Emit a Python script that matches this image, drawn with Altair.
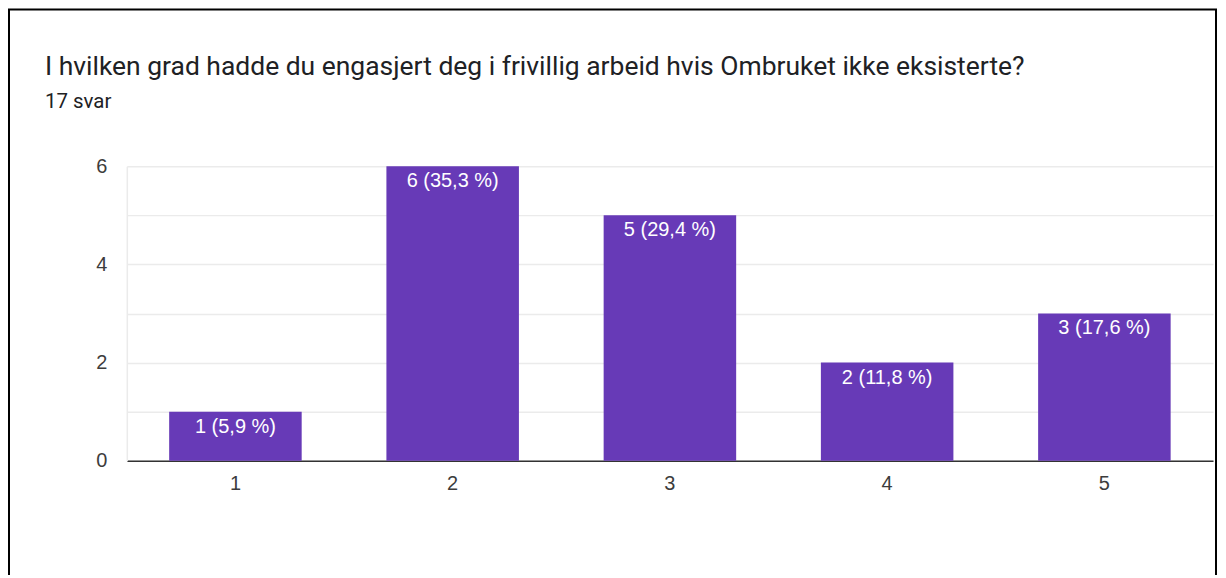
import altair as alt
import pandas as pd

categories = ["1", "2", "3", "4", "5"]
counts = [1, 6, 5, 2, 3]
bar_labels = ["1 (5,9 %)", "6 (35,3 %)", "5 (29,4 %)", "2 (11,8 %)", "3 (17,6 %)"]
title_text = "I hvilken grad hadde du engasjert deg i frivillig arbeid hvis Ombruket ikke eksisterte?"
subtitle_text = "17 svar"

df = pd.DataFrame({"cat": categories, "n": counts, "lab": bar_labels})

PURPLE = "#673AB7"
GRID = "#EBEBEB"
LABEL = "#3c3c3c"

x_enc = alt.X("cat:N", sort=categories,
              scale=alt.Scale(paddingInner=0.39, paddingOuter=0.195),
              axis=alt.Axis(title=None, labelAngle=0, ticks=False, labelPadding=13,
                            labelFont="Liberation Sans", labelFontSize=20, labelColor=LABEL,
                            domainColor="#333333", domainWidth=1.5, grid=False))
y_enc = alt.Y("n:Q", scale=alt.Scale(domain=[0, 6], nice=False),
              axis=alt.Axis(title=None, values=[0, 1, 2, 3, 4, 5, 6], ticks=False,
                            labelExpr="datum.value % 2 == 0 ? datum.label : ''",
                            labelPadding=20, labelFont="Liberation Sans", labelFontSize=20,
                            labelColor=LABEL, gridColor=GRID, gridWidth=1.5,
                            domainColor=GRID, domainWidth=1.5))

base = alt.Chart(df)
bars = base.mark_bar(color=PURPLE).encode(x=x_enc, y=y_enc)
texts = base.mark_text(color="white", baseline="top", dy=5, fontSize=20,
                       font="Liberation Sans").encode(
    x=alt.X("cat:N", sort=categories), y=alt.Y("n:Q"), text="lab:N")

tdf = pd.DataFrame({"t": [title_text]})
sdf = pd.DataFrame({"t": [subtitle_text]})
title = alt.Chart(tdf).mark_text(align="left", baseline="alphabetic", fontSize=26.5,
                                 font="Roboto", color="#202124").encode(
    x=alt.value(-82), y=alt.value(-91), text="t:N")
subtitle = alt.Chart(sdf).mark_text(align="left", baseline="alphabetic", fontSize=20.5,
                                    font="Roboto", color="#202124").encode(
    x=alt.value(-82), y=alt.value(-58), text="t:N")
frame = alt.Chart(pd.DataFrame({"k": [0]})).mark_rect(fill=None, fillOpacity=0,
                                                     stroke="black", strokeWidth=2).encode(
    x=alt.value(-118), x2=alt.value(1091), y=alt.value(-157), y2=alt.value(600))

chart = alt.layer(bars, texts, title, subtitle, frame).properties(
    width=1088, height=295,
    autosize=alt.AutoSizeParams(type="none"),
    padding={"left": 119, "top": 158, "right": 5, "bottom": 114},
).configure(background="white").configure_view(stroke=None).configure_axis(
    labelFontSize=20, labelFont="Liberation Sans", labelColor=LABEL)

chart.save("out.html", embed_options={"renderer": "svg", "actions": False})
